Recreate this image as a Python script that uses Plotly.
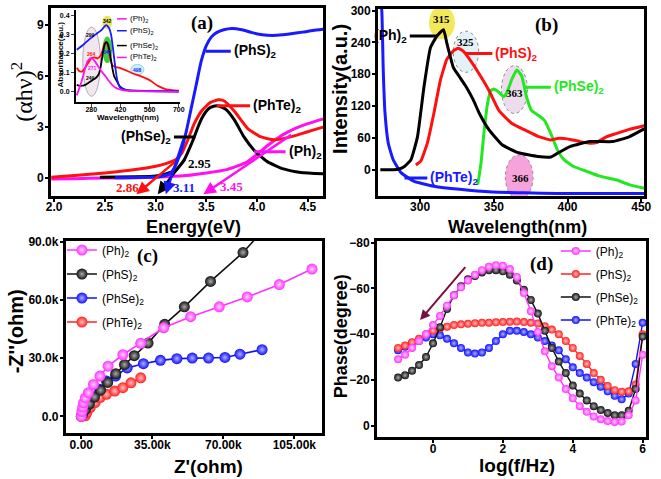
import plotly.graph_objects as go

PAGE_W, PAGE_H = 661, 479
SANS = "Liberation Sans, Arial, sans-serif"
SERIF = "Liberation Serif, Times New Roman, serif"

MAG, BLU, RED, BLK, GRN = "#ff10f0", "#1a1aff", "#ff1010", "#000000", "#22e822"

# ---------------- (a) Tauc plot ----------------
a_ph2_ev = [1.97, 2.2, 2.5, 2.8, 3.0, 3.3, 3.5, 3.7, 3.8, 3.9, 4.0, 4.1, 4.2, 4.3, 4.4, 4.5, 4.65]
a_ph2_val = [-0.05, -0.03, 0.0, 0.02, 0.05, 0.15, 0.3, 0.5, 0.7, 0.95, 1.4, 1.9, 2.35, 2.7, 2.98, 3.2, 3.48]
a_phs_ev = [2.6, 2.9, 3.05, 3.15, 3.2, 3.25, 3.3, 3.35, 3.4, 3.45, 3.5, 3.55, 3.6, 3.67, 3.75, 3.85,
            3.95, 4.05, 4.15, 4.25, 4.35, 4.45, 4.55, 4.65]
a_phs_val = [0.02, 0.05, 0.1, 0.3, 0.8, 1.6, 2.7, 4.1, 5.5, 6.9, 7.8, 8.3, 8.55, 8.72, 8.8, 8.72,
             8.55, 8.42, 8.38, 8.42, 8.5, 8.58, 8.68, 8.75]
a_phse_ev = [2.45, 2.8, 3.0, 3.1, 3.2, 3.28, 3.33, 3.38, 3.42, 3.46, 3.5, 3.54, 3.6, 3.65, 3.7, 3.78,
             3.87, 3.97, 4.1, 4.26, 4.43, 4.65]
a_phse_val = [0.05, 0.08, 0.13, 0.25, 0.48, 1.06, 1.7, 2.42, 3.05, 3.58, 3.95, 4.16, 4.26, 4.18, 4.0,
              3.38, 2.42, 1.64, 0.97, 0.54, 0.33, 0.25]
a_phte_ev = [1.97, 2.2, 2.5, 2.8, 3.0, 3.1, 3.2, 3.26, 3.32, 3.38, 3.46, 3.54, 3.62, 3.68, 3.78, 3.91,
             4.04, 4.17, 4.3, 4.43, 4.55, 4.65]
a_phte_val = [0.05, 0.15, 0.3, 0.5, 0.7, 0.85, 1.1, 1.5, 2.3, 3.2, 4.0, 4.45, 4.6, 4.52, 3.9, 2.9,
              2.42, 2.25, 2.38, 2.6, 2.82, 3.0]
a_gap_values = ["2.86", "2.95", "3.11", "3.45"]

# ---------------- (a) inset absorbance ----------------
ins_ph2_nm = [210, 220, 235, 250, 262, 275, 285, 300, 315, 330, 345, 360, 380, 400, 430, 470, 700]
ins_ph2_abs = [-0.02, 0.01, 0.06, 0.12, 0.16, 0.175, 0.175, 0.155, 0.13, 0.105, 0.085, 0.062, 0.035,
               0.018, 0.008, 0.004, 0.0]
ins_phs_nm = [210, 240, 270, 300, 330, 345, 352, 365, 375, 385, 395, 405, 420, 450, 500, 700]
ins_phs_abs = [0.22, 0.245, 0.275, 0.30, 0.325, 0.345, 0.35, 0.335, 0.30, 0.22, 0.13, 0.06, 0.02,
               0.008, 0.005, 0.002]
ins_phse_nm = [210, 225, 245, 265, 285, 300, 315, 325, 335, 345, 352, 360, 370, 380, 390, 400, 415,
               440, 500, 700]
ins_phse_abs = [0.035, 0.03, 0.032, 0.045, 0.06, 0.07, 0.09, 0.13, 0.2, 0.25, 0.26, 0.25, 0.2, 0.13,
                0.08, 0.06, 0.03, 0.01, 0.003, 0.0]
ins_phte_nm = [210, 220, 235, 250, 265, 280, 295, 310, 325, 335, 345, 352, 360, 370, 380, 395, 420,
               450, 480, 520, 560, 600, 640, 700]
ins_phte_abs = [0.125, 0.11, 0.105, 0.125, 0.15, 0.175, 0.18, 0.175, 0.19, 0.22, 0.255, 0.26, 0.24,
                0.18, 0.14, 0.13, 0.123, 0.11, 0.095, 0.08, 0.06, 0.03, 0.012, 0.005]
ins_peak_labels = ["299", "264", "271", "249", "342", "347", "498"]

# ---------------- (b) PL spectra ----------------
b_ph2_nm = [273, 280, 285, 289.4, 293.8, 298.2, 302.6, 307, 311.4, 315.9, 318, 320.3, 322.5, 326,
            331.3, 336, 340.2, 346.8, 355.6, 366.7, 379.9, 388.7, 393.2, 402, 415.2, 430.7, 441.7, 452]
b_ph2_val = [0, 0, 1, 6, 19, 62, 156, 230, 252, 264, 240, 215, 193, 178, 156, 132, 106, 75, 47, 32,
             25, 24, 31, 44, 53, 53, 62, 77]
b_phs_nm = [297.1, 300.4, 304.9, 309.3, 313.7, 318.1, 322.5, 325.8, 329.1, 333.6, 340.2, 346.8, 353.4,
            362.3, 371.1, 379.9, 388.7, 393.2, 402, 408.6, 415.2, 419.6, 426.3, 432.9, 441.7, 452]
b_phs_val = [9, 16, 50, 106, 168, 208, 224, 229, 224, 208, 180, 149, 112, 87, 75, 63, 56, 59, 57, 53,
             50, 51, 62, 68, 76, 83]
b_phse_nm = [339.1, 341.3, 343.5, 345.7, 347.9, 350.1, 353.4, 356.7, 358.9, 362.3, 365.6, 368.9, 372.2,
             375.5, 379.9, 384.3, 388.7, 393.2, 397.6, 404.2, 413, 421.9, 432.9, 441.7, 452]
b_phse_val = [-28, 12, 75, 124, 149, 152, 146, 138, 146, 171, 188, 177, 137, 112, 103, 93, 68, 37, 19,
              6, -3, -12, -19, -28, -35]
b_phte_nm = [272.6, 274, 275, 276.2, 278.4, 281.7, 287.2, 296, 309.3, 326.9, 349, 371, 393, 415, 452]
b_phte_val = [330, 300, 187, 106, 50, 19, -6, -22, -31, -37, -42, -43.5, -45, -45, -45]
b_peak_labels = ["315", "325", "363", "366"]

# ---------------- (c) Nyquist ----------------
c_ph2_re = [0, 300, 700, 1100, 2000, 3500, 6000, 9200, 13200, 20500, 29300, 40600, 53900, 68000,
            81800, 97600, 113700]
c_ph2_im = [0, 2500, 4800, 7000, 9500, 12200, 16500, 20800, 25900, 31800, 37700, 45700, 51400, 56500,
            61600, 68000, 76000]
c_phs_re = [0, 500, 2000, 4000, 6500, 9500, 13000, 17000, 21300, 26100, 32900, 41100, 50800, 63700,
            79700, 90500]
c_phs_im = [0, 1000, 3500, 6500, 10000, 13500, 17500, 22000, 26700, 31300, 37800, 47500, 56500, 69600,
            84500, 97000]
c_phse_re = [300, 1500, 3500, 6000, 9000, 12400, 16900, 22600, 30600, 39000, 47100, 54700, 62700,
             70800, 78200, 89100]
c_phse_im = [500, 3000, 6000, 10000, 14000, 18200, 20800, 25000, 27200, 28900, 29800, 30100, 30100,
             30400, 32100, 34400]
c_phte_re = [1900, 2700, 4400, 6800, 9200, 12400, 16500, 20500, 24500, 29300]
c_phte_im = [300, 2000, 4600, 7100, 9700, 11400, 13100, 14800, 17300, 19900]

# ---------------- (d) Bode phase ----------------
d_logf = [-1.0, -0.8, -0.6, -0.4, -0.2, 0.0, 0.2, 0.4, 0.6, 0.8, 1.0, 1.2, 1.4, 1.6, 1.8, 2.0, 2.2,
          2.4, 2.6, 2.8, 3.0, 3.2, 3.4, 3.6, 3.8, 4.0, 4.2, 4.4, 4.6, 4.8, 5.0, 5.2, 5.4, 5.6, 5.8, 6.0]
d_ph2 = [-29, -31, -34, -37, -40, -44, -48, -52.5, -57, -60.5, -63.5, -66, -68, -69.5, -70.2, -70,
         -68.5, -65, -58, -50, -41, -32.5, -26, -21, -16, -12, -8.5, -6, -4, -2.8, -2, -1.6, -1.8,
         -4.5, -11, -31]
d_phs = [-34, -35, -36.5, -38, -40, -41.5, -42.5, -43.3, -44, -44.3, -44.6, -44.8, -45, -45, -45.2,
         -45.3, -45.4, -45.5, -45.3, -45, -44.7, -43.5, -42, -40, -37, -34, -30.5, -27, -23, -20,
         -17.3, -15.5, -14.8, -15, -18, -40]
d_phse = [-21, -22, -24, -26.5, -30, -36, -43, -51, -57, -61, -64, -65.5, -67, -68, -68, -67.5, -66,
          -63.5, -59.5, -55, -49, -41.5, -34, -28, -23, -17.5, -14, -11, -8.5, -6.8, -5.5, -4.5,
          -4.5, -6.5, -16, -39]
d_phte = [-33, -34.5, -36, -37, -38.5, -40, -39.5, -38, -36, -34, -32, -31.5, -32, -34, -37, -40,
          -41.5, -41.5, -41, -40, -38.5, -37, -35, -33, -29, -25.5, -23, -21, -19, -17, -15, -13,
          -11.5, -14, -27, -45]

names = ["(Ph)<sub>2</sub>", "(PhS)<sub>2</sub>", "(PhSe)<sub>2</sub>", "(PhTe)<sub>2</sub>"]


def dx(p):
    return p / PAGE_W


def dy(p):
    return 1 - p / PAGE_H


fig = go.Figure()

# (a) main
for xs, ys, c in [(a_ph2_ev, a_ph2_val, MAG), (a_phte_ev, a_phte_val, RED),
                  (a_phse_ev, a_phse_val, BLK), (a_phs_ev, a_phs_val, BLU)]:
    fig.add_trace(go.Scatter(x=xs, y=ys, mode="lines",
                             line=dict(color=c, width=3, shape="spline", smoothing=0.5),
                             xaxis="x", yaxis="y", showlegend=False, hoverinfo="skip"))
# inset
for xs, ys, c in [(ins_phte_nm, ins_phte_abs, RED), (ins_phse_nm, ins_phse_abs, BLK),
                  (ins_phs_nm, ins_phs_abs, BLU), (ins_ph2_nm, ins_ph2_abs, MAG)]:
    fig.add_trace(go.Scatter(x=xs, y=ys, mode="lines",
                             line=dict(color=c, width=1.8, shape="spline", smoothing=0.5),
                             xaxis="x5", yaxis="y5", showlegend=False, hoverinfo="skip"))
# (b)
for xs, ys, c in [(b_phte_nm, b_phte_val, BLU), (b_phse_nm, b_phse_val, GRN),
                  (b_phs_nm, b_phs_val, RED), (b_ph2_nm, b_ph2_val, BLK)]:
    fig.add_trace(go.Scatter(x=xs, y=ys, mode="lines",
                             line=dict(color=c, width=3, shape="spline", smoothing=0.4),
                             xaxis="x2", yaxis="y2", showlegend=False, hoverinfo="skip"))


def sphere(c, light, size):
    return dict(color=c, size=size, line=dict(width=0),
                gradient=dict(type="radial", color=light))


# (c)
c_sets = [(c_ph2_re, c_ph2_im, "#ff33ff", "#ffd0ff"), (c_phs_re, c_phs_im, "#111111", "#aaaaaa"),
          (c_phse_re, c_phse_im, "#1010ff", "#b0b0ff"), (c_phte_re, c_phte_im, "#ff2020", "#ffc0c0")]
for i in [3, 2, 1, 0]:
    xs, ys, c, lt = c_sets[i]
    fig.add_trace(go.Scatter(x=xs, y=ys, mode="lines+markers", name=names[i],
                             line=dict(color=c, width=1.6), marker=sphere(c, lt, 11),
                             xaxis="x3", yaxis="y3", legend="legend", legendrank=i,
                             legendgroup="c%d" % i, hoverinfo="skip"))
# (d)
d_sets = [(d_ph2, "#ff33ff", "#ffd0ff"), (d_phs, "#ff2020", "#ffc0c0"),
          (d_phse, "#111111", "#aaaaaa"), (d_phte, "#1010ff", "#b0b0ff")]
for i in [3, 1, 2, 0]:
    ys, c, lt = d_sets[i]
    fig.add_trace(go.Scatter(x=d_logf, y=ys, mode="lines+markers", name=names[i],
                             line=dict(color=c, width=1.4), marker=sphere(c, lt, 8),
                             xaxis="x4", yaxis="y4", legend="legend2", legendrank=i,
                             legendgroup="d%d" % i, hoverinfo="skip"))

tickf = dict(family=SANS, size=12, color="black", weight="bold")
frame = dict(showline=True, mirror=True, linewidth=3, linecolor="black", ticks="outside",
             ticklen=3, tickwidth=2, tickcolor="black", showgrid=False, zeroline=False,
             tickfont=tickf)
xframe = dict(frame, ticklabelstandoff=-5)
yframe = dict(frame, ticklabelstandoff=-1)
insf = dict(showline=True, linewidth=1.5, linecolor="black", ticks="outside", ticklen=3,
            tickwidth=1, showgrid=False, zeroline=False,
            tickfont=dict(family=SANS, size=7, color="black", weight="bold"))
legf = dict(family=SANS, size=12, color="black")

fig.update_layout(
    width=PAGE_W, height=PAGE_H, margin=dict(l=0, r=0, t=0, b=0),
    paper_bgcolor="white", plot_bgcolor="rgba(0,0,0,0)",
    xaxis=dict(domain=[dx(47), dx(324)], range=[1.97, 4.65], anchor="y",
               tickvals=[2.0, 2.5, 3.0, 3.5, 4.0, 4.5], tickformat=".1f", **xframe),
    yaxis=dict(domain=[dy(193), dy(3)], range=[-1.05, 10.0], anchor="x",
               tickvals=[0, 3, 6, 9], **yframe),
    xaxis2=dict(domain=[dx(380), dx(651)], range=[271.5, 452], anchor="y2",
                tickvals=[300, 350, 400, 450], **xframe),
    yaxis2=dict(domain=[dy(193), dy(4)], range=[-49.5, 303], anchor="x2",
                tickvals=[0, 60, 120, 180, 240, 300], **yframe),
    xaxis3=dict(domain=[dx(62), dx(323)], range=[-7600, 118700], anchor="y3",
                tickvals=[0, 35000, 70000, 105000],
                ticktext=["0.00", "35.00k", "70.00k", "105.00k"], **xframe),
    yaxis3=dict(domain=[dy(433), dy(238)], range=[-8800, 90700], anchor="x3",
                tickvals=[0, 30000, 60000, 90000], ticktext=["0.0", "30.0k", "60.0k", "90.0k"],
                **yframe),
    xaxis4=dict(domain=[dx(379), dx(653)], range=[-1.6, 6.1], anchor="y4",
                tickvals=[0, 2, 4, 6], **xframe),
    yaxis4=dict(domain=[dy(437), dy(238)], range=[5.2, -81], anchor="x4",
                tickvals=[-80, -60, -40, -20, 0], **yframe),
    xaxis5=dict(domain=[dx(72), dx(178)], range=[205, 705], anchor="y5",
                tickvals=[280, 420, 560, 700], ticklabelstandoff=-3, **insf),
    yaxis5=dict(domain=[dy(98), dy(5)], range=[-0.055, 0.43], anchor="x5",
                tickvals=[0.0, 0.1, 0.2, 0.3, 0.4], tickformat=".1f", **insf),
    legend=dict(x=dx(58), y=dy(233), xanchor="left", yanchor="top", bgcolor="rgba(0,0,0,0)",
                font=legf, itemwidth=30, tracegroupgap=5),
    legend2=dict(x=dx(561), y=dy(234), xanchor="left", yanchor="top", bgcolor="rgba(0,0,0,0)",
                 font=legf, itemwidth=30, tracegroupgap=4),
)

shapes = []
ann = []


def line(xr, yr, x0, x1, y, c, w=3):
    shapes.append(dict(type="line", xref=xr, yref=yr, x0=x0, x1=x1, y0=y, y1=y,
                       line=dict(color=c, width=w), layer="above"))


def label(xr, yr, x, y, t, c, anchor="left", size=14, fam=SANS, bold=True):
    ann.append(dict(xref=xr, yref=yr, x=x, y=y, text=t, showarrow=False, xanchor=anchor,
                    yanchor="middle", font=dict(family=fam, size=size, color=c,
                                                weight="bold" if bold else "normal")))


def ell(xr, yr, x0, x1, y0, y1, fill, lc=None, dash="dot", lw=1):
    shapes.append(dict(type="circle", xref=xr, yref=yr, x0=x0, x1=x1, y0=y0, y1=y1,
                       fillcolor=fill, layer="below",
                       line=dict(color=lc or fill, width=lw if lc else 0, dash=dash)))


def arrow(xr, yr, x, y, axv, ayv, c, w=2.5):
    ann.append(dict(xref=xr, yref=yr, x=x, y=y, ax=axv, ay=ayv, axref=xr, ayref=yr, text="",
                    showarrow=True, arrowhead=2, arrowsize=1, arrowwidth=w, arrowcolor=c))


# (a) leaders and labels
line("x", "y", 3.49, 3.74, 7.45, BLU)
label("x", "y", 3.75, 7.45, names[1], BLK)
line("x", "y", 3.6, 3.93, 4.26, RED)
label("x", "y", 3.94, 4.26, names[3], BLK)
line("x", "y", 3.18, 3.39, 2.42, BLK)
label("x", "y", 3.17, 2.42, names[2], BLK, anchor="right")
line("x", "y", 3.97, 4.28, 1.55, MAG)
label("x", "y", 4.29, 1.55, names[0], BLK)
arrow("x", "y", 2.81, -0.95, 3.22, 1.1, RED)
arrow("x", "y", 3.02, -0.95, 3.3, 1.2, BLK)
arrow("x", "y", 3.1, -0.95, 3.28, 2.4, BLU)
arrow("x", "y", 3.47, -0.95, 4.35, 2.6, MAG)
label("x", "y", 2.72, -0.58, a_gap_values[0], RED, anchor="center", size=13, fam=SERIF)
label("x", "y", 3.43, 0.87, a_gap_values[1], BLK, anchor="center", size=13, fam=SERIF)
label("x", "y", 3.28, -0.55, a_gap_values[2], BLU, anchor="center", size=13, fam=SERIF)
label("x", "y", 3.75, -0.48, a_gap_values[3], MAG, anchor="center", size=13, fam=SERIF)
label("x", "y", 3.46, 9.1, "(a)", BLK, anchor="center", size=19, fam=SERIF)

# inset decorations
ell("x5", "y5", 239, 324, -0.025, 0.34, "rgba(236,226,234,0.8)", "#b8a8b8", "solid", 1)
ell("x5", "y5", 333, 380, 0.15, 0.29, "#3ccc3c")
ell("x5", "y5", 333, 380, 0.33, 0.40, "#e4e45a")
ell("x5", "y5", 470, 533, 0.088, 0.143, "#cdeff2", "#88c8d8", "solid", 0.8)
for (x, y, c), t in zip([(275, 0.30, BLK), (280, 0.20, RED), (285, 0.125, MAG), (275, 0.073, BLK),
                         (356, 0.37, BLK), (356, 0.21, BLU), (502, 0.114, BLU)], ins_peak_labels):
    label("x5", "y5", x, y, t, c, anchor="center", size=5, fam=SANS)
for k, (yy, c) in enumerate([(14, MAG), (26, BLU), (41, BLK), (53, MAG)]):
    shapes.append(dict(type="line", xref="paper", yref="paper", x0=dx(114), x1=dx(124),
                       y0=dy(yy), y1=dy(yy), line=dict(color=c, width=1.5)))
    ann.append(dict(xref="paper", yref="paper", x=dx(125), y=dy(yy), text=names[k],
                    showarrow=False, xanchor="left", yanchor="middle",
                    font=dict(family=SANS, size=8, color="black")))

# (b) decorations
ell("x2", "y2", 306, 323.6, 246, 308, "#f2e85a")
ell("x2", "y2", 322.5, 339.7, 183.6, 261, "#e3f2f8", "#888888")
ell("x2", "y2", 355.2, 372.8, 106, 196, "#ecdcec", "#888888")
ell("x2", "y2", 357.8, 376.6, -56, 28, "#f5a3da", "#aa7799")
for (x, y), t in zip([(314.8, 284), (331, 240), (364, 144), (367.8, -15)], b_peak_labels):
    label("x2", "y2", x, y, t, BLK, anchor="center", size=11, fam=SERIF)
line("x2", "y2", 293, 311.5, 252, BLK)
label("x2", "y2", 292.5, 252, names[0], BLK, anchor="right")
line("x2", "y2", 331, 349, 219, RED)
label("x2", "y2", 349.5, 219, names[1], RED)
line("x2", "y2", 371, 388.7, 155.6, GRN)
label("x2", "y2", 389.2, 155.6, names[2], GRN)
line("x2", "y2", 289.4, 304.9, -15.6, BLU)
label("x2", "y2", 305.5, -15.6, names[3], BLU)
label("x2", "y2", 385.4, 273, "(b)", BLK, anchor="center", size=19, fam=SERIF)

# (c), (d)
label("x3", "y3", 32600, 82800, "(c)", BLK, anchor="center", size=19, fam=SERIF)
label("x4", "y4", 3.1, -70.6, "(d)", BLK, anchor="center", size=19, fam=SERIF)
arrow("x4", "y4", -0.37, -46.2, 0.96, -70, "#7a1040", 2)


# axis titles
def title(x, y, t, angle=0, size=19, fam=SANS, bold=True):
    ann.append(dict(xref="paper", yref="paper", x=dx(x), y=dy(y), text=t, showarrow=False,
                    xanchor="center", yanchor="middle", textangle=angle,
                    font=dict(family=fam, size=size, color="black",
                              weight="bold" if bold else "normal")))


title(17, 88, "(αhν)<sup>2</sup>", -90, 24, SERIF, False)
title(192, 224, "Energy(eV)", 0, 18)
title(522, 224, "Wavelength(nm)", 0, 18)
title(341, 85, "Intensity(a.u.)", -90, 20)
title(207, 466, "Z'(ohm)", 0, 19)
title(11, 330, "-Z''(ohm)", -90, 20)
title(521, 465, "log(f/Hz)", 0, 19)
title(342, 335, "Phase(degree)", -90, 18)
title(57, 50, "Absorbance(a.u.)", -90, 8)
title(125, 114, "Wavelength(nm)", 0, 8)

fig.update_layout(shapes=shapes, annotations=ann)
fig.write_html("out.html", config={"displayModeBar": False},
               post_script="document.body.style.margin='0px';"
                           "document.body.style.overflow='hidden';")
